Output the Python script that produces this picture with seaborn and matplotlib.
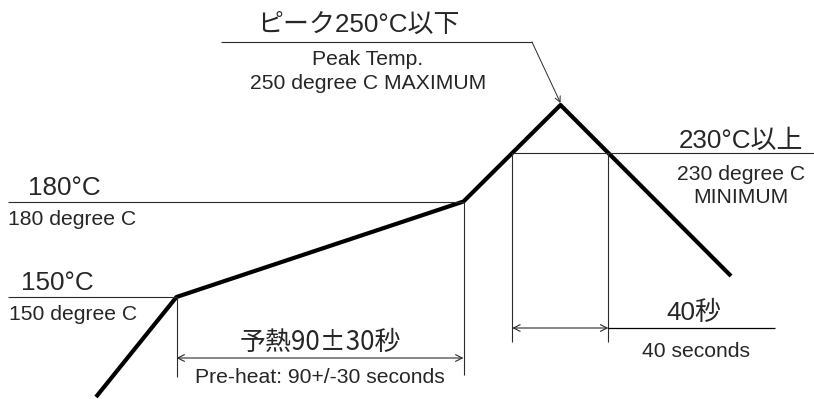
import numpy as np
import matplotlib
matplotlib.use("Agg")
import matplotlib.pyplot as plt
import seaborn as sns

# Profilo schematico di rifusione (coordinate dello schema, y verso l'alto)
profile_time = [96, 176.5, 463.5, 560.5, 731]
profile_height = [2, 102, 197.5, 294, 123]

# Livelli di temperatura nello schema
level_150 = 102
level_180 = 197.5
level_230 = 246

# Testi
jp_peak = "ピーク250°C以下"
en_peak = ["Peak Temp.", "250 degree C MAXIMUM"]
jp_230 = "230°C以上"
en_230 = ["230 degree C", "MINIMUM"]
jp_180 = "180°C"
en_180 = "180 degree C"
jp_150 = "150°C"
en_150 = "150 degree C"
jp_preheat = "予熱90±30秒"
en_preheat = "Pre-heat: 90+/-30 seconds"
jp_40 = "40秒"
en_40 = "40 seconds"

sns.set_theme(style="white")
plt.rcParams["font.family"] = ["Liberation Sans", "Noto Sans CJK JP", "DejaVu Sans"]

fig = plt.figure(figsize=(8.14, 3.99), dpi=100)
ax = fig.add_axes([0, 0, 1, 1])
ax.set_xlim(0, 814)
ax.set_ylim(0, 399)
ax.set_axis_off()

thin = dict(color="#2b2b2b", lw=0.8)

# --- curva principale ---
sns.lineplot(x=profile_time, y=profile_height, ax=ax, color="black",
             lw=3.0, sort=False, solid_capstyle="butt")

# punti di incrocio con il livello 230 calcolati dal profilo
t = np.array(profile_time)
h = np.array(profile_height)
x_up = np.interp(level_230, h[2:4], t[2:4])
x_dn = np.interp(level_230, h[3:5][::-1], t[3:5][::-1])

# --- linee orizzontali dei livelli ---
ax.hlines(level_150, 8, profile_time[1], **thin)
ax.hlines(level_180, 8, profile_time[2], **thin)
ax.hlines(level_230, x_up, 814, **thin)

# --- linee verticali di quota ---
ax.vlines(profile_time[1], 22, level_150, **thin)
ax.vlines(profile_time[2], 24, level_180, **thin)
ax.vlines(x_up, 57, level_230, **thin)
ax.vlines(x_dn, 57, level_230, **thin)

arrow = dict(arrowstyle="<->", color="#2b2b2b", lw=0.8,
             shrinkA=0, shrinkB=0, mutation_scale=12)
ax.annotate("", xy=(profile_time[1], 41), xytext=(profile_time[2], 41),
            arrowprops=arrow)
ax.annotate("", xy=(x_up, 71), xytext=(x_dn, 71), arrowprops=arrow)
ax.hlines(71, x_dn, 775, color="black", lw=0.9)

# --- richiamo del picco ---
ax.hlines(357, 221, 532, **thin)
ax.annotate("", xy=(profile_time[3], profile_height[3] + 2), xytext=(532, 357),
            arrowprops=dict(arrowstyle="->", color="#2b2b2b", lw=0.7,
                            shrinkA=0, shrinkB=0, mutation_scale=10))

# --- testi ---
big = 18.7
small = 15.2
ax.text(358, 399 - 32, jp_peak, fontsize=big, ha="center", va="baseline")
ax.text(368, 399 - 65, en_peak[0], fontsize=small, ha="center", va="baseline")
ax.text(368, 399 - 89, en_peak[1], fontsize=small, ha="center", va="baseline")

ax.text(741, 399 - 148, jp_230, fontsize=big, ha="center", va="baseline")
ax.text(741, 399 - 180, en_230[0], fontsize=small, ha="center", va="baseline")
ax.text(741, 399 - 203, en_230[1], fontsize=small, ha="center", va="baseline")

ax.text(28, 399 - 195, jp_180, fontsize=big, ha="left", va="baseline")
ax.text(8, 399 - 225, en_180, fontsize=small, ha="left", va="baseline")
ax.text(21, 399 - 290, jp_150, fontsize=big, ha="left", va="baseline")
ax.text(9, 399 - 320, en_150, fontsize=small, ha="left", va="baseline")

# il ± a tutta larghezza viene dal font giapponese
ax.text(320, 399 - 350, jp_preheat, fontsize=big, ha="center", va="baseline",
        family=["Noto Sans CJK JP", "DejaVu Sans"])
ax.text(320, 399 - 383, en_preheat, fontsize=small, ha="center", va="baseline")
ax.text(694, 399 - 320, jp_40, fontsize=big, ha="center", va="baseline")
ax.text(696, 399 - 357, en_40, fontsize=small, ha="center", va="baseline")

fig.savefig("out.png", dpi=100, facecolor="white")
plt.close(fig)
